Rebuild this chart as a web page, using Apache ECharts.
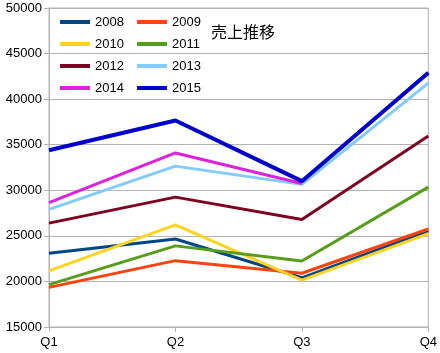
<!DOCTYPE html>
<html>
<head>
<meta charset="utf-8">
<script src="https://cdn.jsdelivr.net/npm/echarts@6/dist/echarts.min.js"></script>
<style>
  html, body { margin: 0; padding: 0; background: #fff; }
  #container { width: 440px; height: 353px; }
</style>
</head>
<body>
<div id="container"></div>
<script>
  var dom = document.getElementById("container");
  var myChart = echarts.init(dom);

  // 四半期
  var quarters = ['Q1', 'Q2', 'Q3', 'Q4'];
  var years = ['2008', '2009', '2010', '2011', '2012', '2013', '2014', '2015'];
  var colors = ['#004586', '#ff420e', '#ffd320', '#579d1c', '#7e0021', '#83caff', '#dd22dd', '#0000cc'];

  // 売上データ
  var s2008 = [23100, 24650, 20400, 25550];
  var s2009 = [19350, 22280, 20900, 25750];
  var s2010 = [21150, 26200, 20150, 25250];
  var s2011 = [19650, 23900, 22250, 30350];
  var s2012 = [26400, 29250, 26800, 35950];
  var s2013 = [27900, 32650, 30650, 41750];
  var s2014 = [28650, 34100, 30750, null];
  var s2015 = [34400, 37650, 31000, 42900];
  var allData = [s2008, s2009, s2010, s2011, s2012, s2013, s2014, s2015];

  var font = '"Liberation Sans", Arial, sans-serif';

  var series = [];
  for (var i = 0; i < years.length; i++) {
      series.push({
          name: years[i],
          type: 'line',
          data: allData[i],
          symbol: 'none',
          silent: true,
          lineStyle: { color: colors[i], width: i == 7 ? 4 : 3 },
          itemStyle: { color: colors[i] }
      });
  }

  function legendBox(names, left) {
      return {
          data: names,
          orient: 'vertical',
          left: left,
          top: 15,
          icon: 'rect',
          itemWidth: 30,
          itemHeight: 4,
          itemGap: 8,
          padding: 0,
          textStyle: { fontFamily: font, fontSize: 13, color: '#000', lineHeight: 14 }
      };
  }

  var option = {
      animation: false,
      title: {
          text: '売上推移',
          left: 211,
          top: 24,
          padding: 0,
          textStyle: { fontFamily: '"Noto Sans CJK JP", sans-serif', fontSize: 16, fontWeight: 'normal', color: '#000' }
      },
      legend: [
          legendBox(['2008', '2010', '2012', '2014'], 60),
          legendBox(['2009', '2011', '2013', '2015'], 137)
      ],
      grid: {
          left: 49, right: 10, top: 8, bottom: 26,
          show: true, borderColor: '#b3b3b3', borderWidth: 1
      },
      xAxis: {
          type: 'category',
          data: quarters,
          boundaryGap: false,
          axisLine: { lineStyle: { color: '#b3b3b3' } },
          axisTick: { show: true, length: 5, lineStyle: { color: '#b3b3b3' } },
          axisLabel: { fontFamily: font, fontSize: 13, color: '#000', margin: 9 },
          splitLine: { show: false }
      },
      yAxis: {
          type: 'value',
          min: 15000,
          max: 50000,
          interval: 5000,
          axisLine: { show: true, lineStyle: { color: '#b3b3b3' } },
          axisTick: { show: true, length: 5, lineStyle: { color: '#b3b3b3' } },
          axisLabel: {
              fontFamily: font, fontSize: 13, color: '#000', margin: 7,
              formatter: function (v) { return String(v); }
          },
          splitLine: { lineStyle: { color: '#b3b3b3' } }
      },
      series: series
  };

  if (option && typeof option === "object") {
      myChart.setOption(option, true);
  }
</script>
</body>
</html>
